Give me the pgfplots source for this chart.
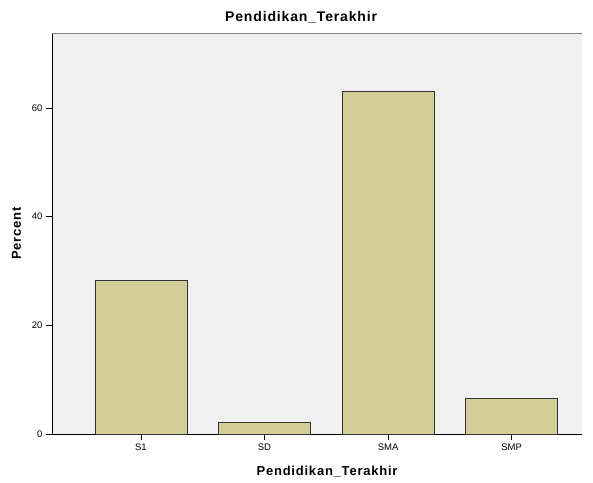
\documentclass[border=0pt]{standalone}
\usepackage{pgfplots}
\pgfplotsset{compat=1.18}
\usepackage{fontspec}
\setmainfont{Liberation Sans}
\newfontfamily\labelfont[LetterSpace=6]{Liberation Sans}
\definecolor{barfill}{RGB}{211,206,151}
\definecolor{bg}{RGB}{240,240,240}
\begin{document}
\begin{tikzpicture}
\path[use as bounding box] (-52pt,-48pt) rectangle (541pt,434pt);
\begin{axis}[
  at={(0,0)}, anchor=south west,
  scale only axis, width=530pt, height=401pt,
  xmin=-0.72, xmax=3.57, ymin=0, ymax=73.8,
  axis background/.style={fill=bg},
  axis x line*=bottom, axis y line*=left,
  axis line style={black, line width=0.8pt, -},
  xtick={0,1,2,3}, xticklabels={S1,SD,SMA,SMP},
  ytick={0,20,40,60},
  tick align=outside, tick style={black, line width=0.8pt},
  major tick length=6pt,
  tick label style={font=\fontsize{9.5}{11}\selectfont},
  /pgf/number format/assume math mode=true,
  ybar, bar width=0.745,
  title={\labelfont\bfseries Pendidikan\_Terakhir},
  title style={font=\fontsize{14}{16}\selectfont, at={(axis description cs:0.47,1)}, anchor=base, yshift=5pt},
  xlabel={\labelfont\bfseries Pendidikan\_Terakhir},
  ylabel={\labelfont\bfseries Percent},
  label style={font=\fontsize{13}{15}\selectfont},
  xlabel style={at={(axis description cs:0.519,0)}, anchor=base, yshift=-41pt},
  ylabel style={at={(axis description cs:-0.067,0.5)}, anchor=center},
]
\addplot[fill=barfill, draw=black!80, line width=0.7pt] coordinates {(0,28.26) (1,2.17) (2,63.04) (3,6.52)};
\end{axis}
\draw[gray, line width=0.6pt] (0,401pt) -- (530pt,401pt);
\end{tikzpicture}
\end{document}
